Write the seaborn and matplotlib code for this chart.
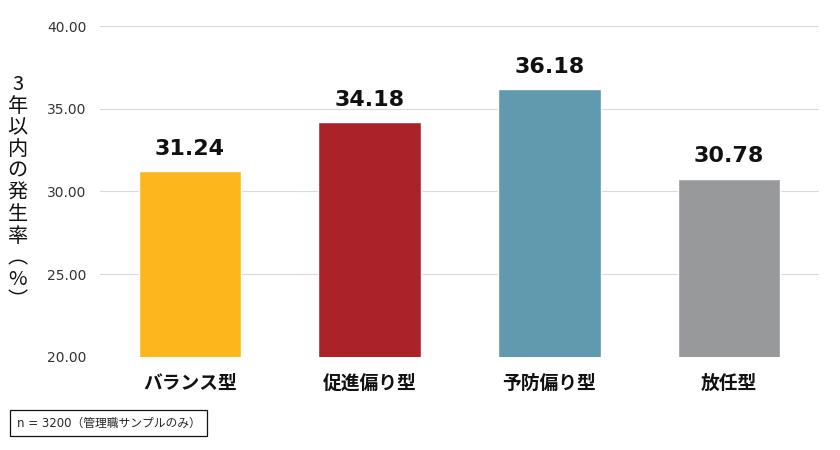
import matplotlib
matplotlib.use("Agg")
import matplotlib.pyplot as plt
import seaborn as sns
import pandas as pd

categories = ["バランス型", "促進偏り型", "予防偏り型", "放任型"]
values = [31.24, 34.18, 36.18, 30.78]
colors = ["#FDB71D", "#AA2329", "#6199AF", "#98999B"]
yticks = [20, 25, 30, 35, 40]
ylabel_chars = ["3", "年", "以", "内", "の", "発", "生", "率", "︵", "%", "︶"]
note = "n = 3200（管理職サンプルのみ）"

sns.set_theme(style="white")
plt.rcParams['font.family'] = ['Noto Sans CJK JP', 'DejaVu Sans']
latin = ['DejaVu Sans', 'Noto Sans CJK JP']

df = pd.DataFrame({"cat": categories, "val": values})
fig = plt.figure(figsize=(8.4, 4.5), dpi=100)
ax = fig.add_axes([0.119, 0.207, 0.856, 0.735])
sns.barplot(data=df, x="cat", y="val", hue="cat", palette=colors, width=0.57,
            legend=False, ax=ax, zorder=3, saturation=1)
ax.set_ylim(20, 40)
ax.set_yticks(yticks)
ax.set_yticklabels([f"{t:.2f}" for t in yticks], fontsize=10, color="#333333",
                   family=latin)
ax.grid(axis="y", color="#d9d9d9", linewidth=0.8, zorder=0)
for s in ax.spines.values():
    s.set_visible(False)
ax.tick_params(axis="y", length=0, pad=9.5)
ax.tick_params(axis="x", length=0, pad=12)
for lab in ax.get_xticklabels():
    lab.set_fontsize(13.5)
    lab.set_fontweight("bold")
    lab.set_color("#111111")
ax.set_xlabel("")
ax.set_ylabel("")
for i, v in enumerate(values):
    ax.text(i, v + 0.75, f"{v:.2f}", ha="center", va="bottom", fontsize=16,
            fontweight="bold", color="#111111", family=latin)

fig.text(0.021, 0.571, "\n".join(ylabel_chars), ha="center", va="center",
         fontsize=14.5, linespacing=1.04, color="#111111")

fig.text(0.020, 0.060, note, ha="left", va="center", fontsize=8.5,
         family=latin,
         bbox=dict(boxstyle="square,pad=0.55", facecolor="white",
                   edgecolor="#111111", linewidth=0.9))

fig.savefig("out.png", dpi=100)
